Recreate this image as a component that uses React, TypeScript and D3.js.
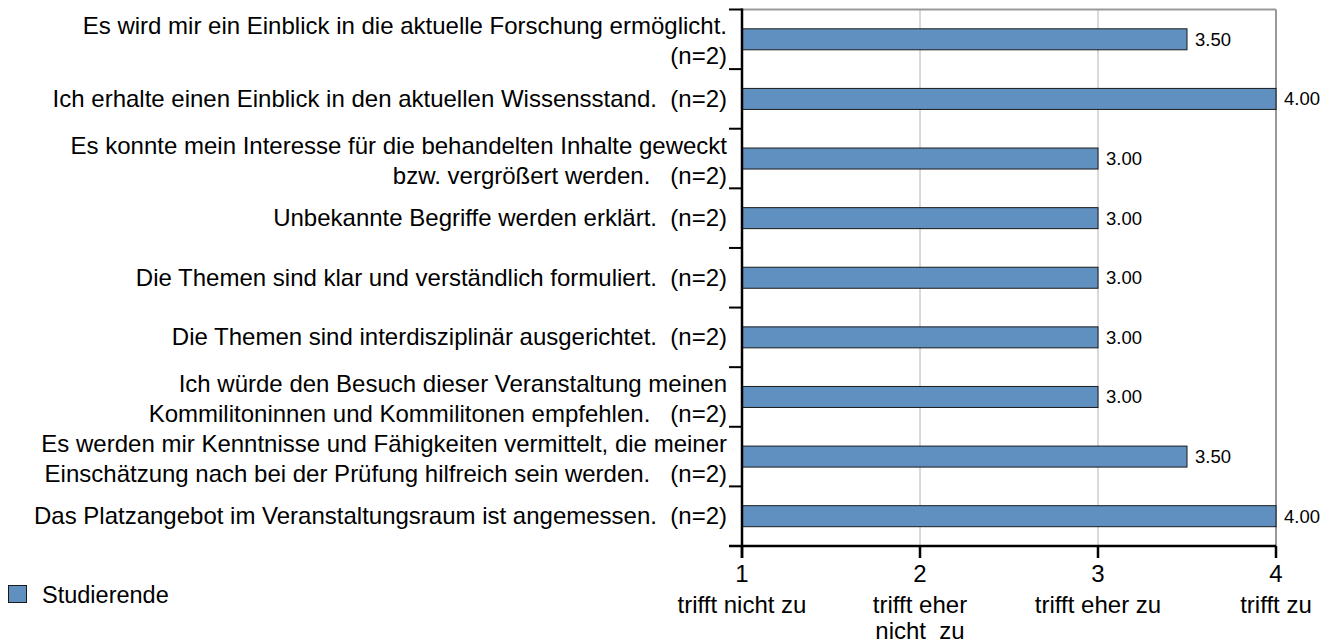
import * as React from 'react';
import {scaleLinear, scaleBand, range} from 'd3';

const labels: string[][] = [
    ['Es wird mir ein Einblick in die aktuelle Forschung ermöglicht.', '(n=2)'],
    ['Ich erhalte einen Einblick in den aktuellen Wissensstand.  (n=2)'],
    ['Es konnte mein Interesse für die behandelten Inhalte geweckt', 'bzw. vergrößert werden.   (n=2)'],
    ['Unbekannte Begriffe werden erklärt.  (n=2)'],
    ['Die Themen sind klar und verständlich formuliert.  (n=2)'],
    ['Die Themen sind interdisziplinär ausgerichtet.  (n=2)'],
    ['Ich würde den Besuch dieser Veranstaltung meinen', 'Kommilitoninnen und Kommilitonen empfehlen.   (n=2)'],
    ['Es werden mir Kenntnisse und Fähigkeiten vermittelt, die meiner', 'Einschätzung nach bei der Prüfung hilfreich sein werden.   (n=2)'],
    ['Das Platzangebot im Veranstaltungsraum ist angemessen.  (n=2)'],
];
const values = [3.5, 4, 3, 3, 3, 3, 3, 3.5, 4];
const ticks = [1, 2, 3, 4];
const tickLabels: string[][] = [
    ['trifft nicht zu'],
    ['trifft eher', 'nicht  zu'],
    ['trifft eher zu'],
    ['trifft zu'],
];
const seriesName = 'Studierende';

const W = 1333;
const H = 644;
const left = 742;
const right = 1276;
const top = 9.5;
const bottom = 546;
const barH = 21;
const font = 'Liberation Sans, Arial, sans-serif';
const barFill = '#6090c0';
const labelSize = 24;

const x = scaleLinear().domain([1, 4]).range([left, right]);
const y = scaleBand<number>().domain(range(values.length)).range([top, bottom]);

function SText(props: {x: number; y: number; anchor: string; size: number; children: string}) {
    return (
        <text
            x={props.x}
            y={props.y}
            textAnchor={props.anchor}
            fontSize={props.size}
            fontFamily={font}
            fill="#000"
            style={{whiteSpace: 'pre'}}
        >
            {props.children}
        </text>
    );
}

export default function App() {
    const bounds = range(values.length + 1).map(i => top + i * y.bandwidth());
    return (
        <svg width={W} height={H} style={{position: 'absolute', left: 0, top: 0, background: '#fff'}}>
            {/* grid */}
            {ticks.slice(1, 3).map(t => (
                <line key={t} x1={x(t)} x2={x(t)} y1={top} y2={bottom} stroke="#b4b4b4" strokeWidth={1} />
            ))}
            <line x1={left} x2={right} y1={top} y2={top} stroke="#999" strokeWidth={2} />
            <line x1={right} x2={right} y1={top} y2={bottom} stroke="#999" strokeWidth={2} />

            {/* bars */}
            {values.map((v, i) => {
                const cy = y(i)! + y.bandwidth() / 2;
                return (
                    <g key={i}>
                        <rect x={x(1)} y={cy - barH / 2} width={x(v) - x(1)} height={barH}
                              fill={barFill} stroke="#1a1a1a" strokeWidth={1} />
                        <SText x={x(v) + 8} y={cy + 6.5} anchor="start" size={18.5}>{v.toFixed(2)}</SText>
                    </g>
                );
            })}

            {/* left axis */}
            <line x1={left} x2={left} y1={top - 1} y2={bottom + 12} stroke="#000" strokeWidth={2.5} />
            {bounds.map((b, i) => (
                <line key={i} x1={left - 13} x2={left} y1={b} y2={b} stroke="#000" strokeWidth={2} />
            ))}
            {labels.map((lines, i) => {
                const cy = y(i)! + y.bandwidth() / 2;
                const ys = lines.length === 1 ? [cy + 8] : [cy - 5, cy + 25];
                return lines.map((l, j) => (
                    <SText key={i + '-' + j} x={727} y={ys[j]} anchor="end" size={labelSize}>{l}</SText>
                ));
            })}

            {/* bottom axis */}
            <line x1={left - 13} x2={right} y1={bottom} y2={bottom} stroke="#000" strokeWidth={2.5} />
            {ticks.map((t, i) => (
                <g key={t}>
                    <line x1={x(t)} x2={x(t)} y1={bottom} y2={bottom + 12} stroke="#000" strokeWidth={2.5} />
                    <SText x={x(t)} y={582} anchor="middle" size={labelSize}>{String(t)}</SText>
                    {tickLabels[i].map((l, j) => (
                        <SText key={j} x={x(t)} y={613 + j * 26} anchor="middle" size={labelSize}>{l}</SText>
                    ))}
                </g>
            ))}

            {/* legend */}
            <rect x={8.5} y={585.5} width={18} height={17} fill={barFill} stroke="#1a1a1a" strokeWidth={1} />
            <SText x={42} y={603} anchor="start" size={23.5}>{seriesName}</SText>
        </svg>
    );
}
